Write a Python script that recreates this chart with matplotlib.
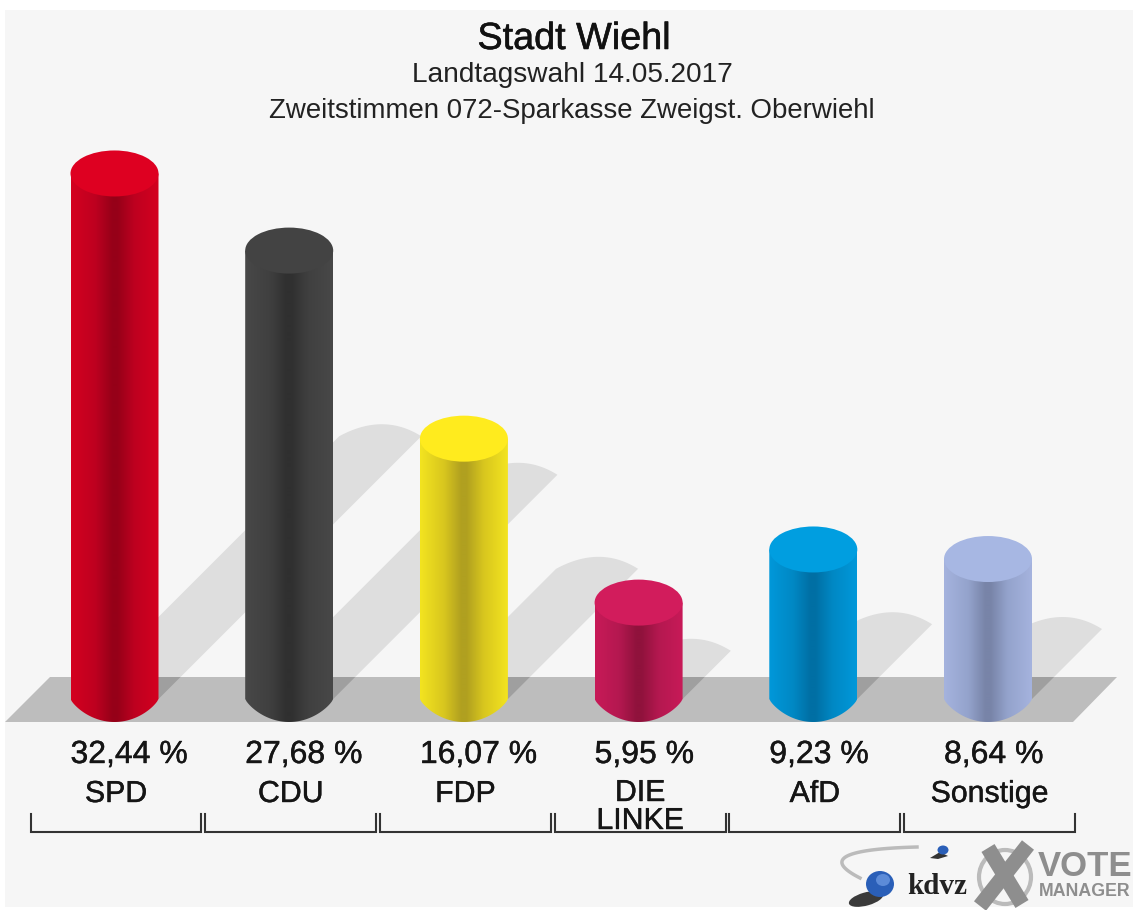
import numpy as np
import matplotlib
matplotlib.use("Agg")
import matplotlib.pyplot as plt
from matplotlib.patches import Polygon, Rectangle, Ellipse
import matplotlib.patheffects as pe

plt.rcParams['font.family'] = ['Liberation Sans', 'DejaVu Sans']

# ---- data ----
parties = ["SPD", "CDU", "FDP", "DIE\nLINKE", "AfD", "Sonstige"]
values = [32.44, 27.68, 16.07, 5.95, 9.23, 8.64]
value_labels = ["32,44 %", "27,68 %", "16,07 %", "5,95 %", "9,23 %", "8,64 %"]
cap_colors = ["#DE0021", "#434343", "#FFEB1E", "#D21C5C", "#009EE0", "#A7B7E3"]
edge_colors = ["#D4001F", "#484848", "#F3E420", "#C81A58", "#0098DA", "#A5B3DE"]
mid_colors = ["#BE0020", "#404040", "#D8C61E", "#B41850", "#0088C4", "#94A3CC"]
dark_colors = ["#960018", "#303030", "#B0A020", "#90123C", "#006FA4", "#7884A8"]
title = "Stadt Wiehl"
subtitle1 = "Landtagswahl 14.05.2017"
subtitle2 = "Zweitstimmen 072-Sparkasse Zweigst. Oberwiehl"

# ---- scale: pixels per unit of the two axes ----
W, H = 1133, 910
PX_X = 174.7       # px per category
PX_Y = 16.2        # px per percentage point
X0, Y0 = 114.5, 699.0   # pixel position of category 0 / value 0

fig = plt.figure(figsize=(W / 100, H / 100), dpi=100, facecolor="white")
ax = fig.add_axes([0, 0, 1, 1])
ax.axis("off")
xlim = (-X0 / PX_X, (W - X0) / PX_X)
ylim = ((Y0 - H) / PX_Y, Y0 / PX_Y)


def fx(px):
    return px / W


def fy(py):
    return 1 - py / H


def dx(px):
    return px / PX_X


def dy(px):
    return px / PX_Y


# panel background
ax.add_patch(Rectangle((fx(5), fy(907)), fx(1133 - 5), 897 / H, transform=ax.transAxes,
                       fc="#F6F6F6", ec="none", zorder=0))

# floor
floor_x = [xlim[0] + dx(5), xlim[0] + dx(1073), xlim[0] + dx(1117), xlim[0] + dx(50)]
floor_y = [-dy(23), -dy(23), dy(22), dy(22)]
floor_xy = np.column_stack([floor_x, floor_y])

HW = dx(44)
RY = dy(23)


def shadow_polygon(i, v):
    shear = PX_Y / PX_X
    tip_y = 0.5 * v
    tip_x = i + HW + shear * tip_y
    lx, ly = tip_x - dx(82), tip_y
    t = np.linspace(0, 1, 40)
    c1x, c1y = tip_x - dx(38), tip_y + dy(24)
    bx = (1 - t) ** 2 * lx + 2 * t * (1 - t) * c1x + t ** 2 * tip_x
    by = (1 - t) ** 2 * ly + 2 * t * (1 - t) * c1y + t ** 2 * tip_y
    base = [[i + HW, 0], [i - dx(38), 0]]
    return np.vstack([base, np.column_stack([bx, by])])


# shadows on the background
for i, v in enumerate(values):
    ax.add_patch(Polygon(shadow_polygon(i, v), closed=True, fc="#DEDEDE", ec="none", zorder=1))

floor = Polygon(floor_xy, closed=True, fc="#BDBDBD", ec="none", zorder=2)
ax.add_patch(floor)

# shadows on the floor
for i, v in enumerate(values):
    s = Polygon(shadow_polygon(i, v), closed=True, fc="#9F9F9F", ec="none", zorder=3)
    ax.add_patch(s)
    s.set_clip_path(floor)


def hex_rgb(c):
    return np.array(matplotlib.colors.to_rgb(c))


# cylinders
for i, v in enumerate(values):
    n = 176
    u = np.linspace(-1, 1, n)
    stops_u = [-1, -0.45, -0.06, 0.06, 0.45, 1]
    stops = np.array([hex_rgb(edge_colors[i]), hex_rgb(mid_colors[i]), hex_rgb(dark_colors[i]),
                      hex_rgb(dark_colors[i]), hex_rgb(mid_colors[i]), hex_rgb(edge_colors[i])])
    grad = np.stack([np.interp(u, stops_u, stops[:, k]) for k in range(3)], axis=-1)[None, :, :]
    uu = np.linspace(1, -1, 60)
    outline = np.vstack([[[i - HW, v], [i + HW, v]],
                         np.column_stack([i + uu * HW, -RY * (1 - uu ** 2) ** 0.8])])
    patch = Polygon(outline, closed=True, fc="none", ec="none", zorder=4)
    ax.add_patch(patch)
    im = ax.imshow(grad, extent=(i - HW, i + HW, -RY, v), aspect="auto",
                   interpolation="bilinear", zorder=4)
    im.set_clip_path(patch)
    ax.add_patch(Ellipse((i, v), 2 * HW, 2 * RY, fc=cap_colors[i], ec="none", zorder=5))

# value labels, party labels, brackets
LINE = "#333333"
bold = [pe.withStroke(linewidth=0.3, foreground="#151515")]
for i, (lab, vl) in enumerate(zip(parties, value_labels)):
    ax.text(i - HW, -dy(56), vl, ha="left", va="center", fontsize=23, color="#151515", zorder=6,
            path_effects=bold)
    bx = i + dx(1.5)
    if "\n" in lab:
        a, b = lab.split("\n")
        ax.text(bx, -dy(94), a, ha="center", va="center", fontsize=21.8, color="#151515", zorder=6,
                path_effects=bold)
        ax.text(bx, -dy(122), b, ha="center", va="center", fontsize=21.8, color="#151515", zorder=6,
                path_effects=bold)
    else:
        ax.text(bx, -dy(95), lab, ha="center", va="center", fontsize=21.8, color="#151515", zorder=6,
                path_effects=bold)
    hw = dx(85.5)
    ax.plot([bx - hw, bx - hw, bx + hw, bx + hw], [-dy(115), -dy(133), -dy(133), -dy(115)],
            color=LINE, lw=1.5, solid_joinstyle="miter", zorder=6)

# titles
ax.text(fx(574), fy(39), title, transform=ax.transAxes, ha="center", va="center",
        fontsize=27.2, color="#111111", path_effects=[pe.withStroke(linewidth=0.4, foreground="#111111")])
ax.text(fx(572), fy(75), subtitle1, transform=ax.transAxes, ha="center", va="center",
        fontsize=20.2, color="#222222")
ax.text(fx(572), fy(111), subtitle2, transform=ax.transAxes, ha="center", va="center",
        fontsize=19.9, color="#222222")

# logo
T = ax.transAxes


def pts(*p):
    return [(fx(a), fy(b)) for a, b in p]


t = np.linspace(0, 1, 40)
p0, p1, p2 = np.array((917, 847)), np.array((805, 850)), np.array((860, 878))
sw = np.outer((1 - t) ** 2, p0) + np.outer(2 * t * (1 - t), p1) + np.outer(t ** 2, p2)
ax.plot(fx(sw[:, 0]), fy(sw[:, 1]), transform=T, color="#BBBBBB", lw=2.5, zorder=6)
ax.add_patch(Ellipse((fx(866), fy(899)), 36 / W, 13 / H, angle=20, transform=T, fc="#3A3A3A", ec="none", zorder=6))
ax.add_patch(Ellipse((fx(880), fy(884)), 28 / W, 26 / H, transform=T, fc="#2A5FB8", ec="none", zorder=7))
ax.add_patch(Ellipse((fx(883), fy(880)), 14 / W, 12 / H, transform=T, fc="#5C8BD8", ec="none", zorder=7))
ax.add_patch(Polygon(pts((930, 858), (940, 852), (948, 856), (938, 859)), closed=True,
                     transform=T, fc="#333333", ec="none", zorder=6))
ax.add_patch(Ellipse((fx(943), fy(850)), 11 / W, 9 / H, transform=T, fc="#2A5FB8", ec="none", zorder=7))
ax.text(fx(937), fy(886), "kdvz", transform=T, ha="center", va="center", family="Liberation Serif",
        fontweight="bold", fontsize=21, color="#222222", zorder=7)
ax.add_patch(Ellipse((fx(1005), fy(877)), 52 / W, 54 / H, transform=T, fc="none", ec="#BBBBBB", lw=3, zorder=6))
ax.plot(fx(np.array([988.0, 1022.0])), fy(np.array([848.0, 904.0])), transform=T, color="#8E8E8E", lw=11,
        solid_capstyle="butt", zorder=7)
ax.plot(fx(np.array([1028.0, 980.0])), fy(np.array([845.0, 906.0])), transform=T, color="#8E8E8E", lw=11,
        solid_capstyle="butt", zorder=7)
ax.text(fx(1038), fy(866), "VOTE", transform=T, ha="left", va="center", fontweight="bold",
        fontsize=25, color="#8E8E8E", zorder=7)
ax.text(fx(1039), fy(892), "MANAGER", transform=T, ha="left", va="center", fontweight="bold",
        fontsize=12.8, color="#8E8E8E", zorder=7)

ax.set_xlim(*xlim)
ax.set_ylim(*ylim)
fig.savefig("out.png", dpi=100, facecolor="white")
